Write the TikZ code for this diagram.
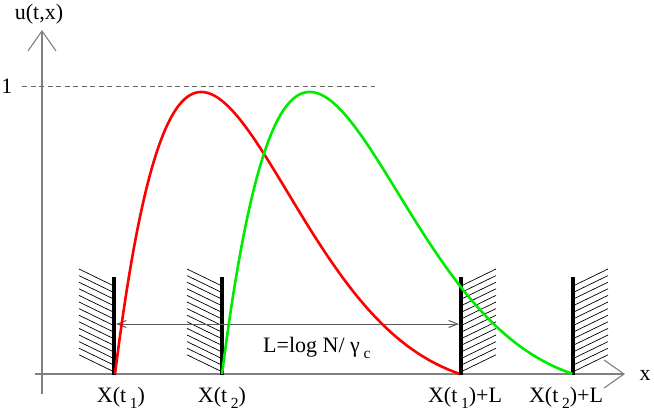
\documentclass[tikz,border=0pt]{standalone}
\usepackage{fontspec}
\setmainfont{Liberation Serif}
\usetikzlibrary{arrows.meta}
\definecolor{axgray}{RGB}{128,128,128}
\definecolor{arrgray}{RGB}{90,90,90}
\definecolor{dashgray}{RGB}{100,100,100}
\definecolor{ugreen}{RGB}{0,235,0}
\newcommand\lowsub[1]{\,\raisebox{-0.3em}{\fontsize{15.5pt}{15.5pt}\selectfont #1}}
\begin{document}
\begin{tikzpicture}[x=1pt,y=-1pt,
  axisline/.style={draw=axgray, line width=1.3pt,
     -{Straight Barb[length=20pt,width=28pt,line width=1.1pt]}},
  lbl/.style={font=\fontsize{22pt}{26pt}\selectfont, inner sep=0pt},
  wallline/.style={line width=3.6pt, black},
  hatchline/.style={line width=0.7pt, black},
  ucurve/.style={line width=2.6pt},
  larrow/.style={draw=arrgray, line width=1pt,
     {Straight Barb[length=9pt,width=7pt]}-{Straight Barb[length=9pt,width=7pt]}},
  guide/.style={draw=dashgray, line width=0.9pt, dash pattern=on 5pt off 3.5pt}
]
\useasboundingbox (0,0) rectangle (654,412);

% axes
\coordinate (ybot) at (42,394);
\coordinate (ytop) at (42,30);
\coordinate (xl) at (35,374);
\coordinate (xr) at (625,374);
\draw[axisline] (ybot) -- (ytop);
\draw[axisline] (xl) -- (xr);

% level 1
\coordinate (d1) at (22,86);
\coordinate (d2) at (375,86);
\draw[guide] (d1) -- (d2);

% walls
\coordinate (w1) at (114,375);
\coordinate (w2) at (222,375);
\coordinate (w3) at (461,375);
\coordinate (w4) at (573,375);

\foreach \w in {114,222}{
  \foreach \k in {0,...,13}{
    \draw[hatchline] ({\w-35},{269+6.6*\k}) -- ({\w},{286+6.6*\k});
  }
}
\foreach \w in {461,573}{
  \foreach \k in {0,...,13}{
    \draw[hatchline] ({\w},{286+6.6*\k}) -- ({\w+35},{269+6.6*\k});
  }
}
\foreach \c in {w1,w2,w3,w4}{
  \draw[wallline] (\c) -- ++(0,-98);
}

% L arrow
\coordinate (a1) at (116,324);
\coordinate (a2) at (459,324);
\draw[larrow] (a1) -- (a2);

% curves
\draw[red, ucurve] plot[domain=0:1, samples=150, variable=\s]
  ({115+345*\s},{374-282*sin(180*\s)*exp(-3.14159*\s)/0.3224});
\draw[ugreen, ucurve] plot[domain=0:1, samples=150, variable=\s]
  ({222+351*\s},{374-282*sin(180*\s)*exp(-3.14159*\s)/0.3224});

% labels
\node[lbl, anchor=base] (lu) at (39,20) {u(t,x)};
\node[lbl, anchor=base] (lone) at (7,94) {1};
\node[lbl, anchor=base] (lx) at (645,380) {x};
\node[lbl, anchor=base] (lX1) at (121,402) {X(t\lowsub{1})};
\node[lbl, anchor=base] (lX2) at (222,402) {X(t\lowsub{2})};
\node[lbl, anchor=base] (lX1L) at (465,402) {X(t\lowsub{1})+L};
\node[lbl, anchor=base] (lX2L) at (566,402) {X(t\lowsub{2})+L};
\node[lbl, anchor=base west] (lL) at (263,352) {L=log N/ γ\lowsub{c}};
\end{tikzpicture}
\end{document}
